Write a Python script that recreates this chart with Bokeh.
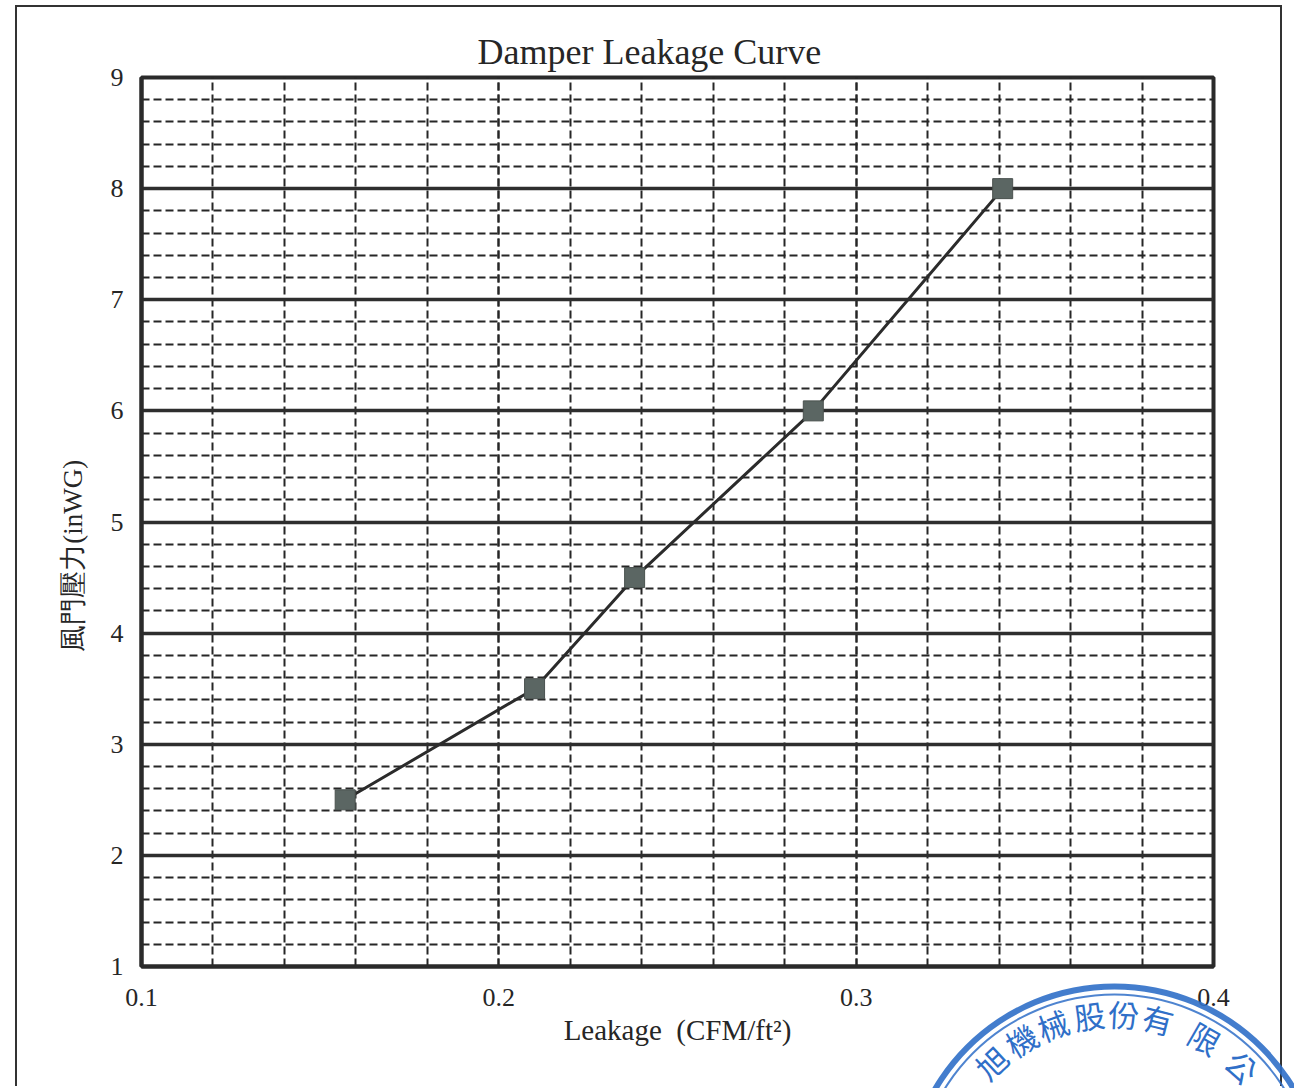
import math
from bokeh.plotting import figure
from bokeh.models import Range1d, SingleIntervalTicker
from bokeh.core.properties import value
from bokeh.embed import file_html
from bokeh.resources import INLINE

# ---- data ----
leakage = [0.157, 0.210, 0.238, 0.288, 0.341]     # CFM/ft2
pressure = [2.5, 3.5, 4.5, 6.0, 8.0]             # inWG
x_ticks = [0.1, 0.2, 0.3, 0.4]
y_ticks = [1, 2, 3, 4, 5, 6, 7, 8, 9]
title_text = "Damper Leakage Curve"
x_label = "Leakage\u00a0\u00a0(CFM/ft\u00b2)"
y_label = "風門壓力(inWG)"
stamp_chars = ["旭", "機", "械", "股", "份", "有", "限", "公"]

SERIF = "Liberation Serif"
INK = "#262626"

p = figure(width=1267, height=1081, output_backend="svg", toolbar_location=None,
           x_range=Range1d(0.1, 0.4), y_range=Range1d(1, 9),
           min_border_left=124, min_border_right=71, min_border_top=70, min_border_bottom=122,
           title=title_text)
p.margin = (5, 0, 0, 15)
p.styles = {"border": "2px solid #333", "border-bottom": "none"}

p.title.align = "left"
p.title.offset = 336
p.title.text_font = SERIF
p.title.text_font_size = "36px"
p.title.text_font_style = "normal"
p.title.text_color = INK
p.title.standoff = 11

# axes
p.xaxis.ticker = SingleIntervalTicker(interval=0.1, num_minor_ticks=5)
p.yaxis.ticker = SingleIntervalTicker(interval=1, num_minor_ticks=5)
for ax in (p.xaxis, p.yaxis):
    ax.major_label_text_font = SERIF
    ax.major_label_text_font_size = "26px"
    ax.major_label_text_color = INK
    ax.axis_label_text_font = SERIF
    ax.axis_label_text_font_style = "normal"
    ax.axis_label_text_color = INK
    ax.major_tick_line_color = None
    ax.minor_tick_line_color = None
    ax.axis_line_color = "#2a2a2a"
    ax.axis_line_width = 4
p.xaxis.axis_label = x_label
# trailing no-break spaces move the rotated label down, as in the reference
p.yaxis.axis_label = y_label + "\u00a0" * 10
p.xaxis.axis_label_text_font_size = "29px"
p.yaxis.axis_label_text_font_size = "27px"
p.xaxis.major_label_standoff = 16
p.xaxis.axis_label_standoff = 5
p.yaxis.major_label_standoff = 12
p.yaxis.axis_label_standoff = 20
p.xaxis.major_label_overrides = {v: str(v) for v in x_ticks}

# grid
p.xgrid.grid_line_color = INK
p.xgrid.grid_line_width = 2
p.xgrid.grid_line_dash = "8 4"
p.xgrid.minor_grid_line_color = INK
p.xgrid.minor_grid_line_width = 2
p.xgrid.minor_grid_line_dash = "8 4"
p.ygrid.grid_line_color = "#2e2e2e"
p.ygrid.grid_line_width = 3.5
p.ygrid.minor_grid_line_color = INK
p.ygrid.minor_grid_line_width = 2
p.ygrid.minor_grid_line_dash = "8 4"

p.outline_line_color = "#2a2a2a"
p.outline_line_width = 4
p.background_fill_color = "white"
p.border_fill_color = "white"

# data
p.line(leakage, pressure, line_color="#2b2b2b", line_width=3)
p.scatter(leakage, pressure, marker="square", size=20, fill_color="#5b6663",
          line_color="#4a524f", line_width=1)

# ---- company seal (decoration in the page corner), drawn in a transparent page overlay ----
PW, PH = 1294, 1088
s = figure(width=PW, height=PH, output_backend="svg", toolbar_location=None,
           x_range=Range1d(0, PW), y_range=Range1d(PH, 0),
           x_axis_location=None, y_axis_location=None, min_border=0)
s.styles = {"position": "absolute", "top": "0px", "left": "0px", "pointer-events": "none"}
s.grid.visible = False
s.outline_line_color = None
s.background_fill_color = None
s.border_fill_color = None

BLUE = "#2f6fc8"
cx, cy = 1114, 1194
s.annulus(x=[cx], y=[cy], inner_radius=205, outer_radius=211,
          fill_color=BLUE, fill_alpha=0.9, line_color=None)
s.annulus(x=[cx], y=[cy], inner_radius=199, outer_radius=201,
          fill_color=BLUE, fill_alpha=0.85, line_color=None)

angles = [133, 121, 110, 98, 87, 76, 60, 45]
r_txt = 181
tx = [cx + r_txt * math.cos(math.radians(a)) for a in angles]
ty = [cy - r_txt * math.sin(math.radians(a)) for a in angles]
rot = [math.radians(a - 90) for a in angles]
s.text(x=tx, y=ty, text=stamp_chars, angle=rot, text_align="center",
       text_baseline="middle", text_font=value("Noto Sans CJK TC"),
       text_font_size="31px", text_color=BLUE)

open("out.html", "w").write(file_html([p, s], INLINE))
